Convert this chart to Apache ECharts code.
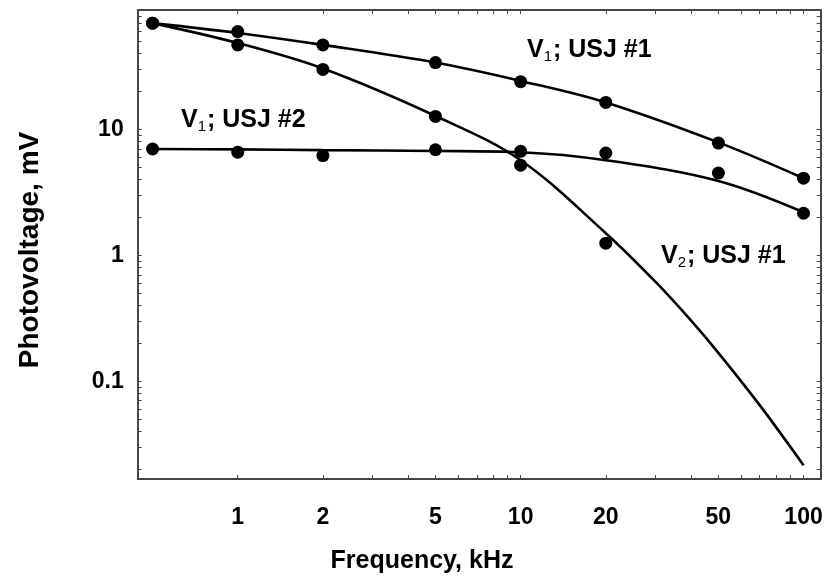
<!DOCTYPE html>
<html>
<head>
<meta charset="utf-8">
<script src="https://cdn.jsdelivr.net/npm/echarts@6/dist/echarts.min.js"></script>
<style>html,body{margin:0;padding:0;background:#fff}#c{width:832px;height:585px}</style>
</head>
<body>
<div id="c"></div>
<script>
// Measured points
const freqPts = [0.5, 1, 2, 5, 10, 20, 50, 100];
const v1usj1Pts = [70, 60, 47, 34, 24, 16.4, 7.8, 4.1];
const v1usj2Pts = [7.0, 6.6, 6.2, 6.9, 6.7, 6.5, 4.5, 2.16];
const freqV2Pts = [0.5, 1, 2, 5, 10, 20];
const v2usj1Pts = [70, 47, 30, 12.7, 5.2, 1.25];

// Fitted curves
const freqFit = [0.5, 1, 2, 5, 10, 20, 50, 100];
const v1usj1Fit = [70, 58.5, 47, 34, 24.3, 16.4, 7.9, 4.1];
const v1usj2Fit = [7.0, 6.95, 6.85, 6.75, 6.6, 5.7, 3.9, 2.2];
const freqV2Fit = [0.5, 1, 2, 5, 10, 20, 30, 40, 50, 70, 100];
const v2usj1Fit = [70, 48.6, 30.5, 12.8, 5.7, 1.5, 0.615, 0.304, 0.168, 0.0645, 0.0215];

// Axis ticks / labels
const xTickVals = [1,2,3,4,5,6,7,8,9,10,20,30,40,50,60,70,80,90,100];
const xLabelVals = [1, 2, 5, 10, 20, 50, 100];
const yTickVals = [0.02,0.03,0.04,0.05,0.06,0.07,0.08,0.09,0.1,0.2,0.3,0.4,0.5,0.6,0.7,0.8,0.9,1,2,3,4,5,6,7,8,9,10,20,30,40,50,60,70,80];
const yLabelVals = [0.1, 1, 10];

const xTitle = 'Frequency, kHz';
const yTitle = 'Photovoltage, mV';

const pair = (xs, ys) => ys.map((y, i) => [xs[i], y]);
const FONT = '"Liberation Sans", Arial, sans-serif';
const axisCol = '#444';

const xMin = 0.443, xMax = 115, yMin = 0.0167, yMax = 89;

function xAxisDef(pos, labels) {
  return {
    type: 'log', logBase: 10, position: pos, min: xMin, max: xMax,
    axisLine: {show: true, onZero: false, lineStyle: {color: axisCol, width: 2}},
    axisTick: {show: true, inside: true, length: 4, customValues: xTickVals, lineStyle: {color: axisCol, width: 1}},
    axisLabel: {show: labels, customValues: xLabelVals, margin: 27, color: '#000', fontFamily: FONT, fontWeight: 'bold', fontSize: 23,
      formatter: v => String(Math.round(v))},
    splitLine: {show: false}, minorTick: {show: false}
  };
}
function yAxisDef(pos, labels) {
  return {
    type: 'log', logBase: 10, position: pos, min: yMin, max: yMax,
    axisLine: {show: true, onZero: false, lineStyle: {color: axisCol, width: 2}},
    axisTick: {show: true, inside: true, length: 4, customValues: yTickVals, lineStyle: {color: axisCol, width: 1}},
    axisLabel: {show: labels, customValues: yLabelVals, margin: 14, color: '#000', fontFamily: FONT, fontWeight: 'bold', fontSize: 23,
      formatter: v => (v < 1 ? (Math.round(v * 10) / 10).toString() : String(Math.round(v)))},
    splitLine: {show: false}, minorTick: {show: false}
  };
}

const lineStyle = {color: '#000', width: 2.6};
function fitSeries(xs, ys) {
  return {type: 'line', xAxisIndex: 0, yAxisIndex: 0, data: pair(xs, ys), smooth: 0.35, showSymbol: false, symbol: 'none',
    lineStyle: lineStyle, silent: true, z: 2};
}
function ptSeries(xs, ys) {
  return {type: 'scatter', xAxisIndex: 0, yAxisIndex: 0, data: pair(xs, ys), symbol: 'circle', symbolSize: 13,
    itemStyle: {color: '#000', opacity: 1}, silent: true, z: 3};
}

function label(text, sub, rest, left, top) {
  return {
    type: 'text', left: left, top: top, silent: true,
    style: {
      text: '{v|' + text + '}{s|' + sub + '}{r|' + rest + '}',
      rich: {
        v: {fontFamily: FONT, fontWeight: 'bold', fontSize: 25, fill: '#000', color: '#000'},
        s: {fontFamily: FONT, fontSize: 15, fill: '#000', color: '#000', verticalAlign: 'bottom', padding: [13, 1, 0, 0]},
        r: {fontFamily: FONT, fontWeight: 'bold', fontSize: 25, fill: '#000', color: '#000'}
      }
    }
  };
}

const chart = echarts.init(document.getElementById('c'), null, {renderer: 'canvas'});
chart.setOption({
  animation: false,
  backgroundColor: '#fff',
  grid: {left: 137.7, top: 10, right: 11.3, bottom: 106, containLabel: false},
  xAxis: [xAxisDef('bottom', true), xAxisDef('top', false)],
  yAxis: [yAxisDef('left', true), yAxisDef('right', false)],
  series: [
    fitSeries(freqFit, v1usj1Fit),
    fitSeries(freqV2Fit, v2usj1Fit),
    fitSeries(freqFit, v1usj2Fit),
    ptSeries(freqPts, v1usj1Pts),
    ptSeries(freqV2Pts, v2usj1Pts),
    ptSeries(freqPts, v1usj2Pts)
  ],
  graphic: [
    label('V', '1', '; USJ #1', 527, 38),
    label('V', '1', '; USJ #2', 181, 108),
    label('V', '2', '; USJ #1', 661, 244),
    {type: 'text', x: 422, y: 561, silent: true,
      style: {text: xTitle, fontFamily: FONT, fontWeight: 'bold', fontSize: 25, fill: '#000', align: 'center', verticalAlign: 'middle'}},
    {type: 'text', x: 30, y: 250, rotation: Math.PI / 2, silent: true,
      style: {text: yTitle, fontFamily: FONT, fontWeight: 'bold', fontSize: 28, fill: '#000', align: 'center', verticalAlign: 'middle'}}
  ]
});
</script>
</body>
</html>
